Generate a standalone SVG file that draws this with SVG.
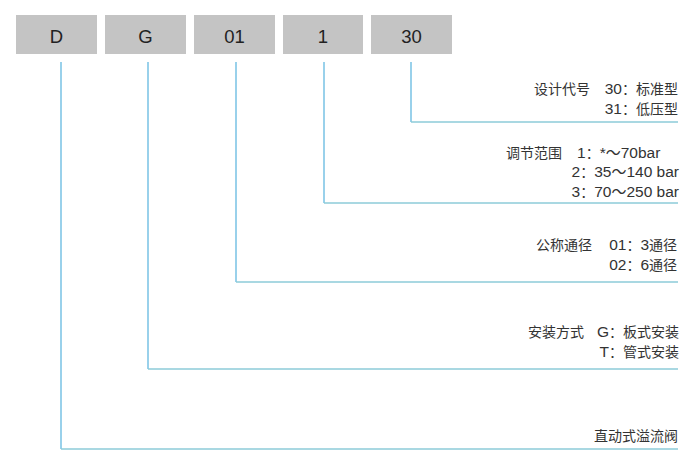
<svg xmlns="http://www.w3.org/2000/svg" width="700" height="470" viewBox="0 0 700 470">
<style>
.box{fill:#c4c4c4}
.bt{font-family:"Liberation Sans",Arial,sans-serif;font-size:18.5px;fill:#222;text-anchor:middle}
.t{font-family:"Liberation Sans","Noto Sans CJK SC",sans-serif;font-size:15.5px;fill:#333;text-anchor:end}
.c{font-size:14px}
.w{font-size:15px}
.s{text-anchor:start}
.v{stroke:#55b2de;stroke-width:1.2;fill:none}
.h{stroke:#8ccbd8;stroke-width:1.6;fill:none}
</style>
<rect width="700" height="470" fill="#fff"/>
<g id="node-D"><rect class="box" x="16" y="15" width="81" height="39"/><text class="bt" x="56.5" y="42.5">D</text></g>
<g id="node-G"><rect class="box" x="105" y="15" width="81" height="39"/><text class="bt" x="145.5" y="42.5">G</text></g>
<g id="node-01"><rect class="box" x="194" y="15" width="81" height="39"/><text class="bt" x="234.5" y="42.5">01</text></g>
<g id="node-1"><rect class="box" x="283" y="15" width="80" height="39"/><text class="bt" x="323" y="42.5">1</text></g>
<g id="node-30"><rect class="box" x="371" y="15" width="81" height="39"/><text class="bt" x="411.5" y="42.5">30</text></g>
<g id="connectors">
<path class="v" d="M411 62V122"/><path class="h" d="M411 122H678"/>
<path class="v" d="M324 62V203"/><path class="h" d="M324 203H678"/>
<path class="v" d="M236 62V282"/><path class="h" d="M236 282H678"/>
<path class="v" d="M148 62V369"/><path class="h" d="M148 369H678"/>
<path class="v" d="M61 62V449"/><path class="h" d="M61 449H678"/>
</g>
<g id="label-30">
<text class="t c" x="590" y="94">设计代号</text>
<text class="t" x="678" y="94">30<tspan class="c">：标准型</tspan></text>
<text class="t" x="678" y="114">31<tspan class="c">：低压型</tspan></text>
</g>
<g id="label-1">
<text class="t c" x="562" y="158">调节范围</text>
<text class="t s" x="577" y="158">1<tspan class="c">：</tspan>*<tspan class="w">～</tspan>70bar</text>
<text class="t" x="679" y="177">2<tspan class="c">：</tspan>35<tspan class="w">～</tspan>140 bar</text>
<text class="t" x="679" y="196.5">3<tspan class="c">：</tspan>70<tspan class="w">～</tspan>250 bar</text>
</g>
<g id="label-01">
<text class="t c" x="592" y="250">公称通径</text>
<text class="t" x="677" y="250">01<tspan class="c">：</tspan>3<tspan class="c">通径</tspan></text>
<text class="t" x="677" y="270">02<tspan class="c">：</tspan>6<tspan class="c">通径</tspan></text>
</g>
<g id="label-G">
<text class="t c" x="584" y="337">安装方式</text>
<text class="t" x="679" y="337">G<tspan class="c">：板式安装</tspan></text>
<text class="t" x="679" y="357">T<tspan class="c">：管式安装</tspan></text>
</g>
<g id="label-D">
<text class="t c" x="678" y="441">直动式溢流阀</text>
</g>
</svg>
